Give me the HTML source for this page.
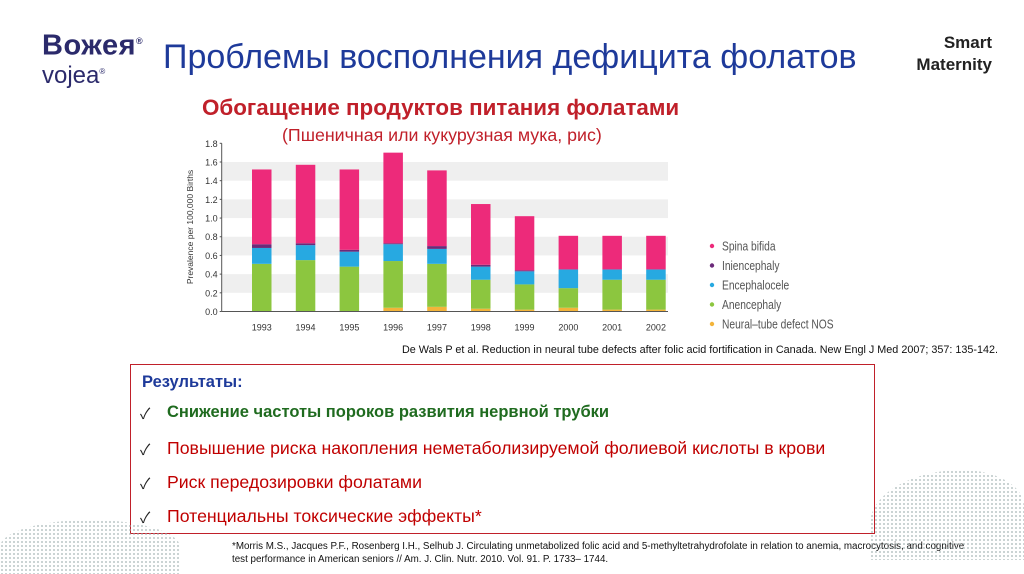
<!DOCTYPE html>
<html><head><meta charset="utf-8">
<style>
body{margin:0;width:1024px;height:574px;overflow:hidden;background:#fff;font-family:"Liberation Sans","Noto Sans CJK SC",sans-serif;position:relative}
.abs{position:absolute}
.ck{position:absolute;left:9px;font-size:15px;color:#222}
.ln{position:absolute;left:36px;font-size:17.7px;color:#c00000}
</style></head><body>
<div class="abs" style="left:42px;top:26px;">
 <div style="font:bold 29px 'Liberation Sans',sans-serif;color:#2b2a6b;line-height:30px;letter-spacing:0.5px">Вожея<sup style="font-size:9px">®</sup></div>
 <div style="font:24px 'Liberation Sans',sans-serif;color:#2b2a6b;line-height:22px">vojea<sup style="font-size:8px">®</sup></div>
</div>
<div class="abs" style="left:163px;top:38px;font-size:34px;color:#1e3a9a;">Проблемы восполнения дефицита фолатов</div>
<div class="abs" style="left:880px;top:32px;width:112px;text-align:right;font-weight:bold;font-size:17px;color:#222;line-height:22px">Smart<br>Maternity</div>
<div class="abs" style="left:202px;top:95px;font-size:22.4px;font-weight:bold;color:#c0202a;">Обогащение продуктов питания фолатами</div>
<div class="abs" style="left:282px;top:125px;font-size:17.8px;color:#c0202a;">(Пшеничная или кукурузная мука, рис)</div>

<svg class="abs" style="left:0;top:0" width="1024" height="574">
 <g id="bands"></g><g id="bars"></g><g id="axis"></g><g id="legend"></g>
</svg>

<div class="abs" style="left:402px;top:344px;font-size:10.8px;color:#111">De Wals P et al. Reduction in neural tube defects after folic acid fortification in Canada. New Engl J Med 2007; 357: 135-142.</div>

<div class="abs" style="left:130px;top:364px;width:743px;height:168px;border:1px solid #c0202a;background:#fff">
 <div style="position:absolute;left:11px;top:8px;font-size:16.5px;font-weight:bold;color:#1e3a9a">Результаты:</div>
 <div class="ck" style="top:38px">✓</div><div style="position:absolute;left:36px;top:38px;font-size:16.5px;font-weight:bold;color:#1f6b1f">Снижение частоты пороков развития нервной трубки</div>
 <div class="ck" style="top:74px">✓</div><div class="ln" style="top:73px">Повышение риска накопления неметаболизируемой фолиевой кислоты в крови</div>
 <div class="ck" style="top:108px">✓</div><div class="ln" style="top:107px">Риск передозировки фолатами</div>
 <div class="ck" style="top:142px">✓</div><div class="ln" style="top:141px">Потенциальны токсические эффекты*</div>
</div>
<div class="abs" style="left:232px;top:540px;width:745px;font-size:9.8px;color:#111;line-height:13px">*Morris M.S., Jacques P.F., Rosenberg I.H., Selhub J. Circulating unmetabolized folic acid and 5-methyltetrahydrofolate in relation to anemia, macrocytosis, and cognitive test performance in American seniors // Am. J. Clin. Nutr. 2010. Vol. 91. P. 1733– 1744.</div>
<div class="abs" style="left:0;top:520px;width:180px;height:54px;background:radial-gradient(circle,#9aa 0.8px,transparent 1.2px) 0 0/4px 4px;opacity:.6;border-radius:50% 50% 0 0"></div>
<div class="abs" style="left:870px;top:470px;width:154px;height:90px;background:radial-gradient(circle,#9aa 0.8px,transparent 1.2px) 0 0/4px 4px;opacity:.6;border-radius:60% 40% 0 0"></div>

<script>
const years=["1993","1994","1995","1996","1997","1998","1999","2000","2001","2002"];
const nos=[0,0,0,0.04,0.05,0.03,0.02,0.04,0.02,0.02];
const anencephaly=[0.51,0.55,0.48,0.50,0.46,0.31,0.27,0.21,0.32,0.32];
const encephalocele=[0.17,0.16,0.16,0.18,0.16,0.14,0.14,0.20,0.11,0.11];
const iniencephaly=[0.04,0.02,0.02,0.01,0.03,0.02,0.01,0,0,0];
const spinaBifida=[0.80,0.84,0.86,0.97,0.81,0.65,0.58,0.36,0.36,0.36];
const yTicks=["0.0","0.2","0.4","0.6","0.8","1.0","1.2","1.4","1.6","1.8"];
const series=[["nos",nos,"#f3b43a"],["anencephaly",anencephaly,"#8cc63f"],["encephalocele",encephalocele,"#27a9e1"],["iniencephaly",iniencephaly,"#6b2a7a"],["spina-bifida",spinaBifida,"#ed2a7a"]];
const NS="http://www.w3.org/2000/svg";
const y0=311.5,yTop=143.3,xAxis=221.7,xRight=668;
const y=v=>y0-(v/1.8)*(y0-yTop);
const x=i=>252+i*43.8;
const bw=19.5;
function mk(t,a,p){const e=document.createElementNS(NS,t);for(const k in a)e.setAttribute(k,a[k]);p.appendChild(e);return e;}
const bands=document.getElementById('bands'),bars=document.getElementById('bars'),axis=document.getElementById('axis'),legend=document.getElementById('legend');
for(let i=0;i<yTicks.length;i++){
 const v=parseFloat(yTicks[i]);
 if(i%2===1&&i<yTicks.length-1){const r=mk('rect',{x:xAxis,y:y(v+0.2),width:xRight-xAxis,height:y(v)-y(v+0.2),fill:'#efefef'},bands);
  
  }
 const t=mk('text',{x:xAxis-4,y:y(v)+3.5,'text-anchor':'end','font-size':'9','fill':'#333'},axis);t.textContent=yTicks[i];
 
 
 mk('line',{x1:xAxis-2,x2:xAxis,y1:y(v),y2:y(v),stroke:'#555','stroke-width':1},axis);
}
mk('line',{x1:xAxis,x2:xAxis,y1:y0,y2:yTop,stroke:'#555','stroke-width':1},axis);
mk('line',{x1:xAxis,x2:xRight,y1:y0,y2:y0,stroke:'#555','stroke-width':1},axis);
const yt=mk('text',{x:0,y:0,transform:'translate(193,227) rotate(-90)','text-anchor':'middle','font-size':'8.5','fill':'#333'},axis);yt.textContent='Prevalence per 100,000 Births';


years.forEach((yr,i)=>{
 let acc=0;
 series.forEach(([n,arr,c])=>{const v=arr[i];if(v<=0)return;
  const r=mk('rect',{x:x(i),y:y(acc+v),width:bw,height:y(acc)-y(acc+v),fill:c},bars);
  
  
  acc+=v;});
 const t=mk('text',{x:x(i)+bw/2,y:y0+19,'text-anchor':'middle','font-size':'9','fill':'#333'},axis);t.textContent=yr;
 
 
});
const legNames=[["Spina bifida","#ed2a7a"],["Iniencephaly","#6b2a7a"],["Encephalocele","#27a9e1"],["Anencephaly","#8cc63f"],["Neural\u2013tube defect NOS","#f3b43a"]];
legNames.forEach(([n,c],i)=>{
 const g=mk('g',{},legend);
 
 
 mk('circle',{cx:712,cy:246+i*19.5,r:2.2,fill:c},g);
 const t=mk('text',{x:722,y:250.5+i*19.5,'font-size':'12.5','fill':'#555',transform:'translate(722,0) scale(0.82,1) translate(-722,0)'},g);t.textContent=n;
});
</script>
</body></html>
